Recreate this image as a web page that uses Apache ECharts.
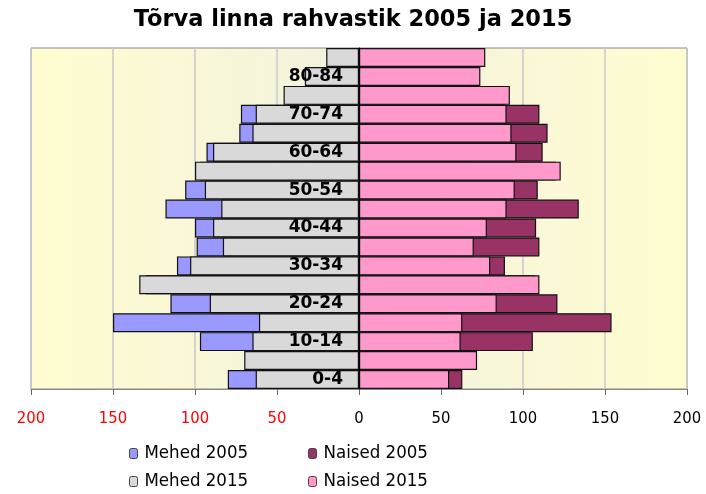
<!DOCTYPE html>
<html>
<head>
<meta charset="utf-8">
<script src="https://cdn.jsdelivr.net/npm/echarts@6/dist/echarts.min.js"></script>
<style>
  html, body { margin: 0; padding: 0; background: #fff; }
  #chart { width: 706px; height: 494px; }
</style>
</head>
<body>
<div id="chart"></div>
<script>
// vanuserühmad alt üles
let ageGroups = ['0-4', '5-9', '10-14', '15-19', '20-24', '25-29', '30-34', '35-39', '40-44',
  '45-49', '50-54', '55-59', '60-64', '65-69', '70-74', '75-79', '80-84', '85+']
let mehed2005 = [80, 68, 97, 150, 115, 130, 111, 99, 100, 118, 106, 97, 93, 73, 72, 44, 31, 18]
let mehed2015 = [63, 70, 65, 61, 91, 134, 103, 83, 89, 84, 94, 100, 89, 65, 63, 46, 33, 20]
let naised2005 = [63, 70, 106, 154, 121, 107, 89, 110, 108, 134, 109, 120, 112, 115, 110, 89, 71, 74]
let naised2015 = [55, 72, 62, 63, 84, 110, 80, 70, 78, 90, 95, 123, 96, 93, 90, 92, 74, 77]
let xTicks = [-200, 200, 50]

let narrowFont = "'DejaVu Sans Condensed', 'Liberation Sans', sans-serif"

let myChart = echarts.init(document.getElementById('chart'))

function barSeries (name, data, color) {
  return {
    name: name,
    type: 'bar',
    data: data,
    barGap: '-100%',
    barCategoryGap: '0%',
    itemStyle: {
      color: color,
      borderColor: '#111',
      borderWidth: 1.2
    }
  }
}

// üks legend iga kirje jaoks, et saada 2x2 paigutus
function legendItem (name, left, top) {
  return {
    data: [name],
    left: left,
    top: top,
    padding: 0,
    itemWidth: 8,
    itemHeight: 10,
    itemGap: 8,
    itemStyle: { borderColor: '#444', borderWidth: 1 },
    textStyle: {
      fontFamily: narrowFont,
      fontSize: 18.5,
      padding: [0, 0, 0, 2],
      color: '#000'
    }
  }
}

let option = {
  animation: false,
  title: {
    text: 'Tõrva linna rahvastik 2005 ja 2015',
    left: 'center',
    top: 4,
    textStyle: {
      fontFamily: 'DejaVu Sans',
      fontWeight: 'bold',
      fontSize: 22.5,
      color: '#000'
    }
  },
  legend: [
    legendItem('Mehed 2005', 129, 444),
    legendItem('Naised 2005', 308, 444),
    legendItem('Mehed 2015', 129, 472),
    legendItem('Naised 2015', 308, 472)
  ],
  grid: {
    left: 31,
    right: 19,
    top: 48,
    bottom: 105,
    containLabel: false,
    outerBoundsMode: 'none',
    show: true,
    borderColor: '#888',
    borderWidth: 1,
    backgroundColor: {
      type: 'linear',
      x: 0, y: 0, x2: 1, y2: 0,
      colorStops: [
        { offset: 0, color: '#FFFDD0' },
        { offset: 0.5, color: '#F3F1DE' },
        { offset: 1, color: '#FFFDD0' }
      ]
    }
  },
  xAxis: {
    type: 'value',
    min: xTicks[0],
    max: xTicks[1],
    interval: xTicks[2],
    axisLine: { show: true, lineStyle: { color: '#888' } },
    axisTick: { show: true, length: 6, lineStyle: { color: '#666' } },
    axisLabel: {
      margin: 21,
      fontFamily: narrowFont,
      fontSize: 16.5,
      formatter: v => String(Math.abs(v)),
      color: v => (v < 0 ? '#FF0000' : '#000')
    },
    splitLine: { show: true, lineStyle: { color: '#C8C8C8', width: 1.5 } }
  },
  yAxis: {
    type: 'category',
    data: ageGroups,
    z: 10,
    // telg nullpunkti kohale
    offset: -328,
    axisLine: { show: true, onZero: false, lineStyle: { color: '#000' } },
    axisTick: { show: false },
    axisLabel: {
      interval: 1,
      margin: 16,
      fontFamily: 'DejaVu Sans',
      fontWeight: 'bold',
      fontSize: 17,
      color: '#000'
    }
  },
  series: [
    barSeries('Mehed 2005', mehed2005.map(v => -v), '#9999FF'),
    barSeries('Naised 2005', naised2005, '#993366'),
    barSeries('Mehed 2015', mehed2015.map(v => -v), '#D9D9D9'),
    barSeries('Naised 2015', naised2015, '#FF99CC')
  ]
}
myChart.setOption(option, true)
</script>
</body>
</html>
